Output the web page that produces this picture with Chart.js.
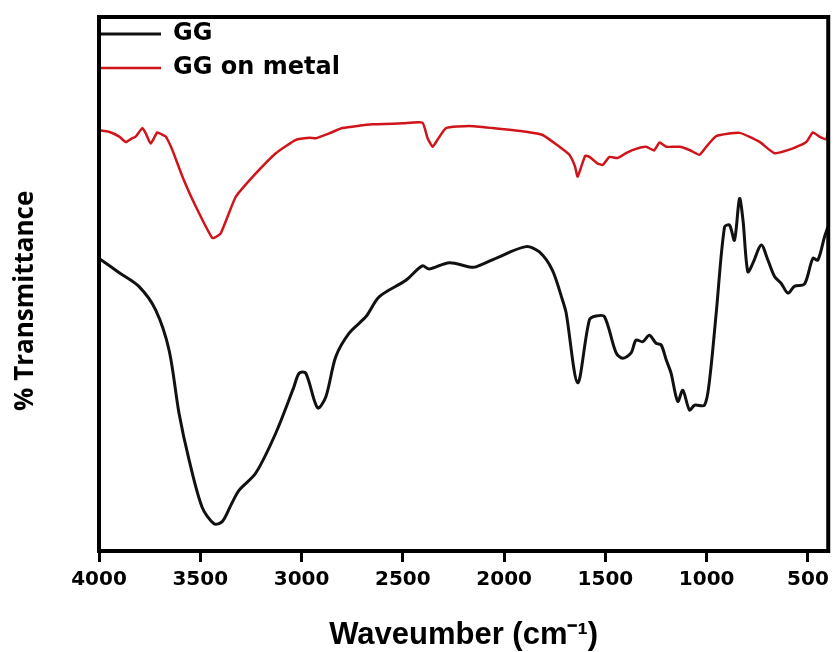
<!DOCTYPE html>
<html>
<head>
<meta charset="utf-8">
<script src="https://cdn.jsdelivr.net/npm/chart.js@4/dist/chart.umd.min.js"></script>
<style>
  html, body { margin: 0; padding: 0; background: #fff; }
  #wrap { width: 835px; height: 652px; }
</style>
</head>
<body>
<div id="wrap"><canvas id="ftir" width="835" height="652"></canvas></div>
<script>
// wavenumber ticks (cm-1)
const xTicks = [4000, 3500, 3000, 2500, 2000, 1500, 1000, 500];

// GG (black)
const ggWave = [4000, 3900, 3802, 3720, 3654, 3605, 3555, 3491, 3432, 3392, 3350, 3308, 3226, 3127, 3040, 3012, 2979, 2921, 2880, 2831, 2765, 2682, 2617, 2485, 2404, 2370, 2271, 2172, 2139, 2024, 1892, 1826, 1762, 1712, 1694, 1637, 1579, 1546, 1505, 1447, 1415, 1373, 1349, 1316, 1283, 1250, 1225, 1200, 1176, 1143, 1118, 1085, 1060, 1011, 986, 953, 912, 887, 863, 838, 821, 797, 772, 731, 698, 665, 632, 599, 566, 517, 476, 451, 418, 402];
const ggT = [54.8, 52.1, 49.5, 45.1, 37.6, 25.8, 17.0, 8.2, 5.1, 5.5, 8.5, 11.4, 14.6, 22.1, 30.5, 33.3, 33.3, 26.8, 28.9, 36.4, 40.8, 43.9, 47.6, 50.7, 53.4, 52.8, 54.0, 53.2, 53.2, 55.1, 57.0, 56.0, 52.6, 47.0, 44.6, 31.5, 43.3, 44.0, 43.9, 37.1, 36.1, 37.1, 39.5, 39.2, 40.4, 38.9, 38.6, 35.8, 33.3, 28.0, 30.1, 26.4, 27.3, 27.3, 32.0, 44.6, 60.7, 61.0, 58.2, 66.0, 62.0, 52.3, 53.9, 57.3, 54.5, 51.4, 50.1, 48.3, 49.6, 50.0, 54.8, 54.5, 58.9, 60.7];

// GG on metal (red)
const metalWave = [4000, 3951, 3900, 3868, 3840, 3819, 3786, 3769, 3745, 3712, 3690, 3670, 3638, 3588, 3522, 3440, 3399, 3325, 3226, 3127, 3028, 2960, 2929, 2864, 2798, 2650, 2500, 2403, 2378, 2353, 2329, 2287, 2172, 2057, 1892, 1810, 1727, 1678, 1650, 1637, 1600, 1579, 1540, 1513, 1480, 1440, 1398, 1350, 1299, 1260, 1233, 1200, 1134, 1085, 1036, 1000, 953, 838, 739, 665, 574, 508, 476, 443, 410, 402];
const metalT = [78.8, 78.5, 77.6, 76.6, 77.2, 77.6, 79.2, 78.2, 76.3, 78.4, 78.0, 77.6, 75.1, 70.1, 64.5, 58.6, 59.5, 66.3, 70.7, 74.5, 77.0, 77.4, 77.3, 78.2, 79.2, 79.9, 80.1, 80.2, 77.3, 75.7, 77.0, 79.2, 79.6, 79.2, 78.5, 77.9, 75.7, 74.2, 72.0, 70.1, 74.0, 73.8, 72.6, 72.3, 73.8, 73.6, 74.5, 75.3, 75.7, 75.0, 76.5, 75.7, 75.7, 75.1, 74.2, 75.8, 77.7, 78.3, 76.6, 74.5, 75.4, 76.6, 78.4, 77.6, 77.1, 78.6];

const toPoints = (xs, ys) => xs.map((x, i) => ({ x: x, y: ys[i] }));

// thick frame round the plot area
const framePlugin = {
  id: 'frame',
  afterDatasetsDraw(chart) {
    const { ctx, chartArea: a } = chart;
    ctx.save();
    ctx.strokeStyle = '#000';
    ctx.lineWidth = 4;
    ctx.strokeRect(a.left, a.top, a.right - a.left, a.bottom - a.top);
    ctx.restore();
  }
};

// legend sits inside the plot, its lines starting at the left axis
const legendPlace = {
  id: 'legendPlace',
  afterLayout(chart) {
    const lg = chart.legend;
    if (!lg) return;
    lg.left = chart.chartArea.left - 10;
    lg.top = chart.chartArea.top - 5;
  }
};

const ctx = document.getElementById('ftir').getContext('2d');
new Chart(ctx, {
  type: 'line',
  data: {
    datasets: [{
      label: 'GG',
      data: toPoints(ggWave, ggT),
      borderColor: '#111',
      backgroundColor: '#111',
      borderWidth: 3,
      pointRadius: 0,
      tension: 0.3
    }, {
      label: 'GG on metal',
      data: toPoints(metalWave, metalT),
      borderColor: '#d0141a',
      backgroundColor: '#d0141a',
      borderWidth: 2.5,
      pointRadius: 0,
      tension: 0.15
    }]
  },
  options: {
    responsive: false,
    animation: false,
    layout: { padding: { top: 17, right: 5, left: 0, bottom: 0 } },
    plugins: {
      tooltip: { enabled: false },
      legend: {
        position: 'chartArea',
        align: 'start',
        labels: {
          usePointStyle: true,
          pointStyle: 'line',
          pointStyleWidth: 62,
          padding: 10,
          color: '#000',
          font: { family: 'DejaVu Sans', weight: 'bold', size: 24 }
        }
      }
    },
    scales: {
      x: {
        type: 'linear',
        reverse: true,
        min: 400,
        max: 4000,
        afterBuildTicks: (axis) => { axis.ticks = xTicks.map(v => ({ value: v })); },
        afterFit: (axis) => { axis.height = 101; },
        ticks: {
          autoSkip: false,
          maxRotation: 0,
          padding: 6,
          color: '#000',
          font: { family: 'DejaVu Sans', weight: 'bold', size: 20 },
          callback: (v) => String(v)
        },
        grid: { drawOnChartArea: false, tickLength: 11, tickWidth: 3, tickColor: '#000' },
        border: { display: false },
        title: {
          display: true,
          text: 'Waveumber (cm\u207B\u00B9)',
          color: '#000',
          font: { family: 'Liberation Sans', weight: 'bold', size: 31 },
          padding: { top: 0, bottom: -2 }
        }
      },
      y: {
        min: 0,
        max: 100,
        afterFit: (axis) => { axis.width = 99; },
        ticks: { display: false },
        grid: { display: false },
        border: { display: false },
        title: {
          display: true,
          text: '% Transmittance     ',
          color: '#000',
          font: { family: 'Open Sans', weight: 'bold', size: 26 },
          padding: { top: 10, bottom: 0 }
        }
      }
    }
  },
  plugins: [framePlugin, legendPlace]
});
</script>
</body>
</html>
